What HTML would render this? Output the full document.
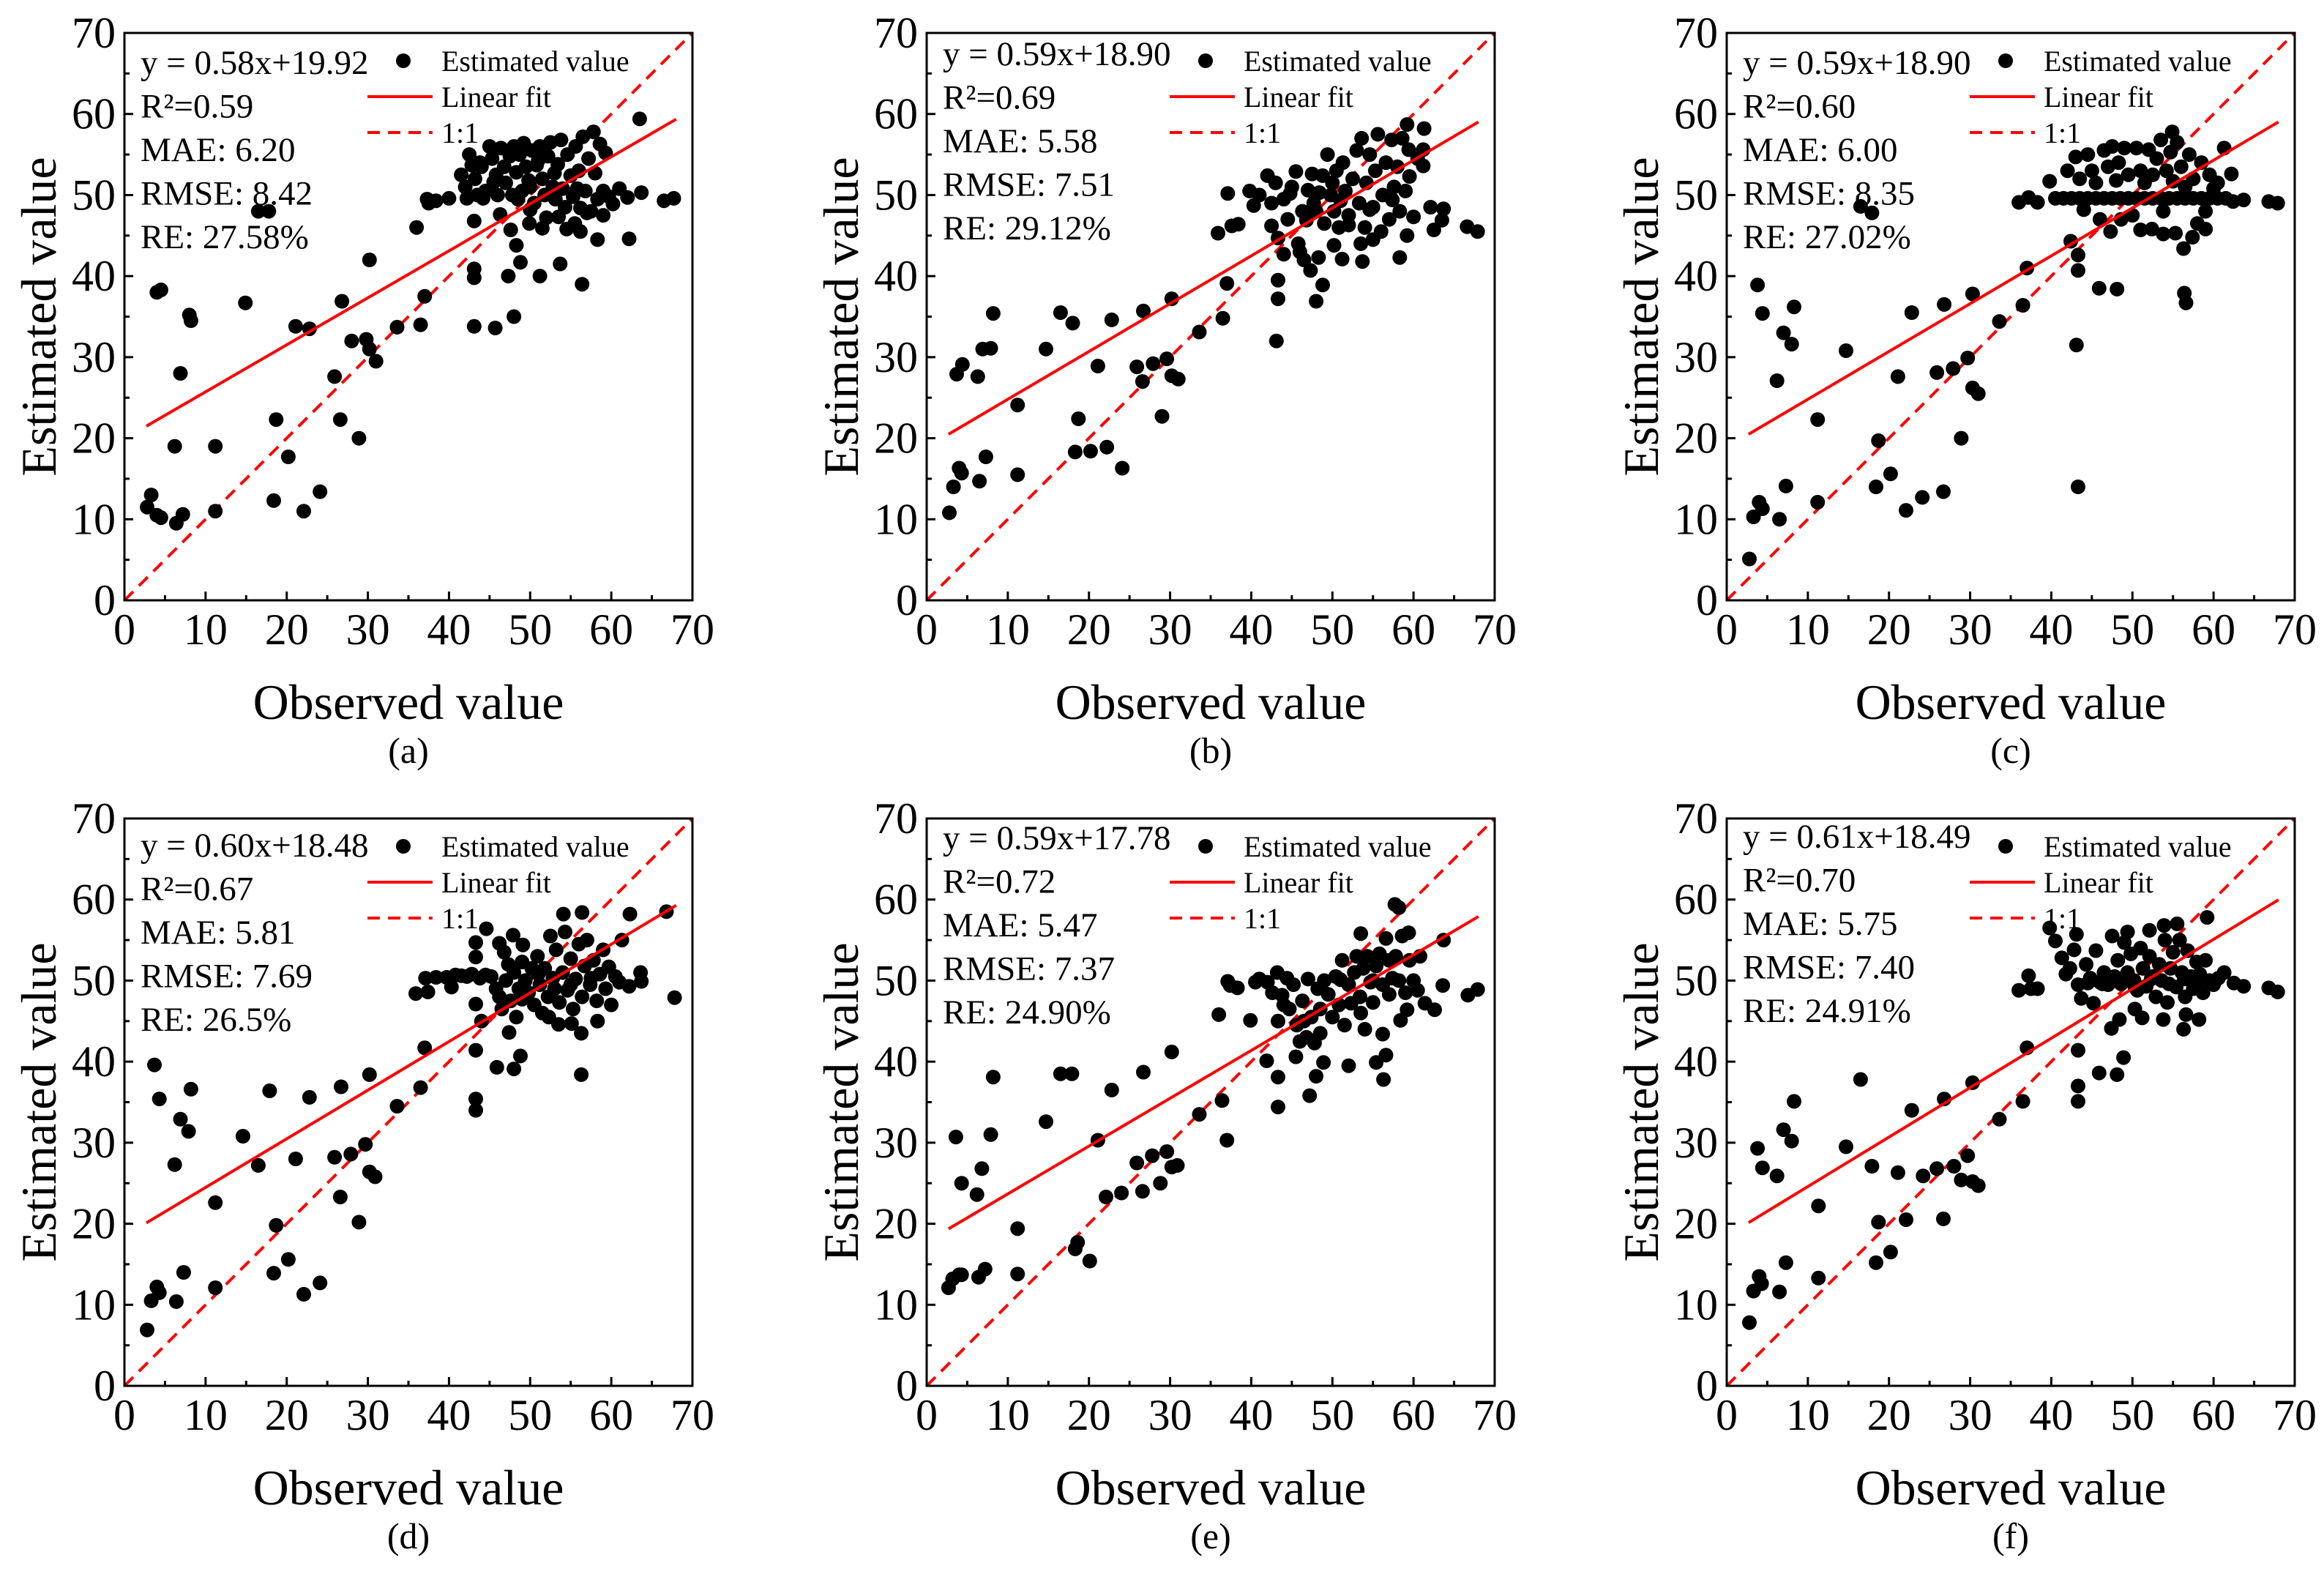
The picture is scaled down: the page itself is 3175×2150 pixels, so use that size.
<!DOCTYPE html>
<html><head><meta charset="utf-8"><title>Observed vs estimated scatter plots</title>
<style>
html,body{margin:0;padding:0;background:#fff;}
svg{display:block;font-family:"Liberation Serif","Times New Roman",serif;}
</style></head>
<body>
<svg id="fig" width="3175" height="2150" viewBox="0 0 3175 2150" xmlns="http://www.w3.org/2000/svg"></svg>
<script>
// ---- data ----
const tickValues = [0,10,20,30,40,50,60,70];
const panelLabels = ["(a)","(b)","(c)","(d)","(e)","(f)"];
const fitSlopes = [0.58,0.59,0.59,0.60,0.59,0.61];
const fitIntercepts = [19.92,18.90,18.90,18.48,17.78,18.49];
const statEq = ["y = 0.58x+19.92","y = 0.59x+18.90","y = 0.59x+18.90","y = 0.60x+18.48","y = 0.59x+17.78","y = 0.61x+18.49"];
const statR2 = ["R²=0.59","R²=0.69","R²=0.60","R²=0.67","R²=0.72","R²=0.70"];
const statMAE = ["MAE: 6.20","MAE: 5.58","MAE: 6.00","MAE: 5.81","MAE: 5.47","MAE: 5.75"];
const statRMSE = ["RMSE: 8.42","RMSE: 7.51","RMSE: 8.35","RMSE: 7.69","RMSE: 7.37","RMSE: 7.40"];
const statRE = ["RE: 27.58%","RE: 29.12%","RE: 27.02%","RE: 26.5%","RE: 24.90%","RE: 24.91%"];

const pointsA = [[2.8,11.5],[3.3,13],[4,38],[4.5,38.3],[4,10.5],[4.5,10.2],[6.2,19],[6.4,9.5],[6.9,28],[7.2,10.6],[8,35.2],[8.2,34.5],[11.2,19],[11.2,11],[14.9,36.7],[16.5,48],[17.8,48],[18.4,12.3],[18.7,22.3],[20.2,17.7],[21.1,33.8],[22.1,11],[22.8,33.5],[24.1,13.4],[25.9,27.6],[26.6,22.3],[26.8,36.9],[28,32],[28.9,20],[29.8,32.2],[30.2,31],[30.2,42],[31,29.5],[33.6,33.7],[36,46],[36.5,34],[37,37.5],[37.3,49.5],[37.5,49],[38.4,49.3],[40,49.6],[43.1,39.8],[43.1,40.9],[43.1,33.8],[43.1,46.8],[45.7,33.6],[48,35],[47.3,40],[48.3,43.8],[48.8,41.7],[49.9,46.5],[51.2,40],[51.5,45.9],[53.7,41.5],[56.4,39],[56.2,45.5],[58.3,44.5],[59,47.5],[62.2,44.6],[63.5,59.4],[63.7,50.3],[66.5,49.3],[67.7,49.6],[61,50.8],[62,49.7],[60.2,48.9],
[41.5,52.5],[42,51],[42.5,55],[42.8,53.7],[43.2,52],[43.5,50],[44,53.5],[44.5,50.5],[45,56],[45.3,54.5],[45.8,52.5],[46,50],[46.4,55.8],[46.8,53.5],[47,51.5],[47.5,54.8],[47.8,50],[48,56],[48.3,52.8],[48.7,55],[49,50.5],[49.2,56.4],[49.5,53.5],[50,51],[50.2,55.5],[50.5,49],[50.8,53.7],[51.2,56],[51.5,52],[51.8,50],[52.2,54.8],[52.5,56.5],[52.8,51],[53.1,49.5],[53.4,53.8],[53.8,56.8],[54,50.8],[54.3,48.5],[54.6,55],[55,52.4],[55.3,49.8],[55.6,56],[56,53],[56.2,48.4],[56.5,57.2],[56.8,50.5],[57.2,54.5],[57.5,48],[57.8,57.8],[58,52.7],[58.3,49.5],[58.6,56.3],[59,50.5],[59.3,55.2],[59.7,49.8],[44.2,49.6],[42.2,49.6],[46.3,47.6],[47.6,45.7],[52,47.2],[53.5,47.3],[54.5,45.8],[55.5,46.5],[57,47.8],[50,48.2],[48.5,49.5],[45.5,51.6],[43.8,54],[51,54.3],[53,52.7],[55.8,50.8],[49.8,51.8]];

const pointsB = [[2.8,10.8],[3.3,14],[4,16.3],[4.3,15.7],[3.7,27.9],[4.4,29.1],[6.3,27.6],[6.5,14.7],[6.9,31],[7.9,31.1],[7.3,17.7],[8.2,35.4],[11.2,24.1],[11.2,15.5],[14.7,31],[16.5,35.5],[18,34.2],[18.7,22.4],[18.3,18.3],[20.2,18.4],[21.1,28.9],[22.2,18.9],[22.8,34.6],[24.1,16.3],[25.9,28.8],[26.6,27],[26.7,35.7],[27.9,29.2],[29,22.7],[29.6,29.8],[30.2,37.2],[30.2,27.7],[31,27.3],[33.6,33.1],[36.5,34.8],[35.9,45.3],[37,39.1],[37.1,50.2],[37.6,46.2],[38.4,46.4],[39.8,50.5],[40.3,48.7],[42.5,46.2],[43.1,32],[43.3,37.2],[43.3,39.5],[43.3,44.7],[44,42.7],[47.3,40.7],[48,36.9],[48.8,38.9],[48.3,42.3],[50.2,43.8],[51.2,42.1],[53.7,41.8],[58.3,42.3],[62.1,48.5],[62.5,45.7],[63.5,46.9],[63.7,48.3],[66.6,46.1],[67.9,45.5],[61.3,58.2],[61.2,55.6],[61.2,53.6],[59.2,58.7],[59.4,55.6],
[41,50],[42,52.4],[42.5,49],[43,51.5],[44,49.5],[44.5,47],[45,51],[45.5,52.9],[45.8,44],[46.3,48],[46,43],[46.5,42],[47,50.6],[47.5,52.6],[48,48],[48.4,50.3],[48.8,52.4],[49,46.5],[49.4,55],[49.8,50],[50.2,48],[50.5,53],[50.8,46],[51.3,54],[51.6,50.5],[52,47.5],[52.5,52],[53,55.5],[53.3,49],[53.6,57],[54,46],[54.2,51.5],[54.6,55],[55,48.5],[55.3,53],[55.6,57.5],[56,45.5],[56.2,50],[56.6,54],[57,47],[57.3,56.8],[57.6,51],[58,53.5],[58.3,48],[58.6,57],[59,50.5],[59.2,45],[59.5,52.3],[60,47.3],[60.5,54.5],[55,44.5],[53.5,44],[52,46.3],[50,51.5],[47.7,49],[44.8,50.2],[46.8,46.9],[51,49.3],[54.6,48.2],[57.4,49.4]];

const pointsC = [[2.8,5.1],[3.3,10.3],[4,12.1],[4.4,11.3],[3.8,38.9],[4.4,35.4],[6.2,27.1],[6.5,10],[7,33],[7.3,14.1],[8,31.6],[8.3,36.2],[11.2,22.3],[11.2,12.1],[14.7,30.8],[16.5,48.6],[17.9,47.8],[18.4,14],[18.7,19.7],[20.2,15.6],[21.1,27.6],[22.1,11.1],[22.8,35.5],[24.1,12.7],[25.9,28.1],[26.7,13.4],[26.8,36.5],[27.9,28.6],[28.9,20],[29.7,29.9],[30.3,37.8],[30.3,26.2],[31,25.5],[33.6,34.4],[36.5,36.4],[36,49.1],[37,41],[37.2,49.7],[38.3,49.1],[39.8,51.7],[42.4,44.3],[43.3,14],[43.1,31.5],[43.3,40.7],[43.3,42.6],[45.9,38.5],[48.1,38.4],[56.4,37.9],[56.6,36.7],[56.3,43.4],[57.4,44.8],[53.8,45.2],[55.3,45.3],[51,45.7],[52.4,45.8],[59,45.8],[66.8,49.2],[67.9,49],[63.7,49.4],[62.4,49.2],[61.3,55.8],[62.2,52.6],[54.9,57.8],
[40.5,49.6],[41.5,49.6],[42.5,49.6],[43.5,49.6],[44.5,49.6],[45.5,49.6],[46.5,49.6],[47.5,49.6],[48.5,49.6],[49.5,49.6],[50.5,49.6],[51.5,49.6],[52.5,49.6],[53.5,49.6],[54.5,49.6],[55.5,49.6],[56.5,49.6],[57.5,49.6],[58.5,49.6],[59.5,49.6],[60.5,49.6],[61.5,49.6],
[42,53],[43,54.7],[43.5,52],[44,48.2],[44.5,55],[45,53],[45.5,51.5],[46,47],[46.5,55.5],[47,53.5],[47.3,45.5],[47.5,56],[48,51.8],[48.3,54],[48.6,47],[49,55.8],[49.5,52.5],[50,47.5],[50.5,55.8],[51,53],[51.5,51.5],[52,55.6],[52.5,52.5],[53,54.5],[53.5,56.8],[53.8,48],[54.2,53],[54.7,55.3],[55,51.7],[55.5,56.5],[56,53.5],[56.5,51],[57,55],[57.5,52],[58,46.5],[58.5,54],[59,48],[59.5,52.5],[60,50.8],[60.5,51.5]];

const pointsD = [[2.8,6.9],[3.3,10.5],[4,12.2],[4.3,11.5],[3.7,39.6],[4.3,35.4],[6.2,27.3],[6.4,10.4],[6.9,32.9],[7.3,14],[7.9,31.4],[8.2,36.6],[11.2,22.6],[11.2,12.1],[14.6,30.8],[16.5,27.2],[17.9,36.4],[18.4,13.9],[18.7,19.8],[20.2,15.6],[21.1,28],[22.1,11.3],[22.8,35.6],[24.1,12.7],[25.9,28.2],[26.6,23.3],[26.7,36.9],[27.9,28.6],[28.9,20.2],[29.7,29.8],[30.2,38.4],[30.2,26.4],[30.9,25.8],[33.6,34.5],[36.5,36.8],[35.9,48.4],[37,41.7],[37.1,50.3],[37.4,48.6],[38.4,50.4],[39.7,50.4],[40.3,49.2],[43.3,35.4],[43.3,34],[43.3,41.4],[43.3,47.1],[44,45],[43.3,54.7],[43.3,52.9],[44.6,56.4],[45.9,39.3],[48,39.1],[48.8,40.7],[47.4,43.6],[56.3,38.4],[56.3,43.5],[58.3,45],[53.5,44.6],[55.1,44.7],[66.8,58.5],[67.8,47.9],[62.3,58.2],[61.3,55],[63.6,51],[63.7,49.9],[62.2,49.3],[54.1,58.2],[56.4,58.4],[46.2,54.6],[47.9,55.6],[49.1,54.4],
[40.8,50.7],[41.5,50.6],[42.2,50.5],[42.8,50.8],[43.8,50.3],[44.5,50.7],[45.2,50.5],[45.8,49],[46.2,48],[46.5,46.5],[47,50],[47.3,52],[47.6,47.5],[48,51],[48.3,45.5],[48.6,49],[49,52.3],[49.4,50],[49.8,48.5],[50.2,51.5],[50.5,47],[50.9,53],[51.2,49.5],[51.5,46],[51.8,51.5],[52.2,48],[52.5,55.5],[52.8,50.3],[53.2,53.8],[53.6,47.3],[54,51],[54.3,56],[54.6,48.8],[55,52.7],[55.3,46.5],[55.6,50.2],[56,54.5],[56.4,48],[56.7,51.8],[57,55],[57.4,49.5],[57.8,52.5],[58.2,47.5],[58.6,50.8],[59,53.8],[59.3,49],[59.7,51.7],[60,47],[60.5,50.5],[61,49.8],[53,49],[51,50.8],[55,49.5],[57.5,50.3],[49,47.7],[52.3,45.5],[46.8,53.5]];

const pointsE = [[2.7,12.1],[3.2,13.2],[4,13.7],[4.3,13.7],[3.6,30.7],[4.3,25],[6.2,23.6],[6.4,13.4],[6.8,26.8],[7.2,14.4],[7.9,31],[8.2,38.1],[11.2,19.4],[11.2,13.8],[14.7,32.6],[16.5,38.5],[17.9,38.5],[18.3,16.9],[18.6,17.7],[20.1,15.4],[21.1,30.3],[22.1,23.3],[22.8,36.5],[24,23.8],[25.9,27.5],[26.6,24],[26.7,38.7],[27.8,28.4],[28.8,25],[29.6,28.9],[30.2,41.2],[30.2,27],[30.9,27.2],[33.6,33.5],[36.4,35.2],[36,45.8],[37,30.3],[37.1,49.9],[37.4,49.4],[38.3,49.1],[39.9,45.1],[40.5,49.8],[41.9,40.1],[43.3,34.4],[43.3,38.1],[43.3,45],[45.5,40.6],[47.2,35.8],[48,38.2],[48.9,39.9],[52,39.5],[55.4,39.9],[56.3,37.8],[56.6,40.8],[56.2,43.4],[58.4,45.1],[59.2,46.4],[61.4,47.2],[62.6,46.4],[63.7,55],[63.6,49.4],[66.7,48.2],[67.9,48.9],[57.7,59.4],[58.2,59],[53.5,55.8],[59.4,55.9],[60.8,53],
[41,50.2],[42,49.8],[42.6,48.5],[43.2,51],[43.8,48.2],[44.4,50.3],[44.7,46.5],[45.2,49.5],[45.6,44.5],[46,42.5],[46.3,47.5],[46.8,43],[47,50.2],[47.4,45.5],[47.8,42.3],[48.2,49],[48.5,46.5],[49,50],[49.5,48.3],[50,45.5],[50.4,50.5],[50.8,47],[51.2,52.5],[51.5,44.5],[52,49.5],[52.3,47.2],[52.7,51],[53,53],[53.4,48],[53.8,51.5],[54,44],[54.3,53],[54.7,49.8],[55,47.3],[55.4,51.8],[55.8,53.3],[56.2,49.5],[56.6,55.2],[57,48.3],[57.4,50.3],[57.8,53],[58.2,50],[58.6,55.5],[59,48.5],[59.5,52.5],[60,50],[60.5,48.8],[48.5,43.5],[44,47],[46.5,45],[51,50.1],[53.5,46],[55,50],[57,52.5]];

const pointsF = [[2.8,7.8],[3.3,11.7],[4,13.5],[4.3,12.6],[3.8,29.3],[4.4,26.9],[6.2,25.9],[6.5,11.6],[7,31.6],[7.3,15.2],[8,30.2],[8.3,35.1],[11.3,22.2],[11.3,13.3],[14.7,29.5],[16.5,37.8],[17.9,27.1],[18.4,15.2],[18.7,20.2],[20.2,16.5],[21.1,26.3],[22.1,20.5],[22.8,34],[24.2,25.9],[25.9,26.8],[26.7,20.6],[26.8,35.4],[28,27.1],[28.9,25.4],[29.7,28.4],[30.3,37.4],[30.3,25.2],[31,24.7],[33.6,32.9],[36.5,35.1],[36,48.8],[37,41.7],[37.2,50.6],[37.5,49],[38.3,49],[39.8,56.5],[40.5,54.9],[43.3,37],[43.3,35.1],[43.3,41.4],[45.9,38.6],[48.1,38.4],[48.9,40.5],[47.4,44.1],[48.4,45.2],[50.3,46.5],[51.2,45.4],[53.8,45.2],[56.3,44],[56.6,45.8],[58.2,45.2],[66.8,49.1],[67.9,48.6],[63.7,49.3],[62.5,49.7],[61.3,51],[59.2,57.8],[55.5,57],[53.9,56.8],[52.1,56.2],[43.1,55.7],[49.4,56],
[41.3,52.8],[41.8,50.8],[42.3,51.5],[42.8,53.8],[43.3,49.5],[43.7,47.8],[44.3,52],[44.8,50.3],[45.2,47.2],[45.5,53.7],[46,49.8],[46.5,51],[47,49.5],[47.5,55.5],[47.8,50.5],[48.2,52.5],[48.6,49.6],[49,54.7],[49.4,51],[49.8,53.3],[50.2,50],[50.6,48.8],[51,54],[51.3,51.5],[51.7,49.3],[52.1,53],[52.5,50.5],[52.9,48],[53.3,52],[53.6,50],[54,55],[54.3,47.3],[54.7,51.5],[55,53.5],[55.4,49.2],[55.8,55],[56.1,51],[56.5,48],[56.8,53.7],[57.2,50.5],[57.5,49],[57.9,52.3],[58.3,50.8],[58.7,48.5],[59,52.5],[59.5,50],[60,49.5],[60.6,50.3],[44.5,49.7],[46.3,49.6],[48.3,50.2],[50.3,49.2],[52.3,50.2],[54.5,49.6],[56.4,50.2],[58,49.8]];

const allPoints = [pointsA,pointsB,pointsC,pointsD,pointsE,pointsF];
const statOffsets = [40,28,40,36,26,24];

// ---- drawing ----
const NS = "http://www.w3.org/2000/svg";
const svg = document.getElementById("fig");
const colLeft = [170,1266,2359];
const rowTop = [45,1118];
const PW = 776, PH = 775, XMAX = 70, YMAX = 70;
function mk(tag, attrs, parent){
  const e = document.createElementNS(NS, tag);
  for (const k in attrs) e.setAttribute(k, attrs[k]);
  (parent||svg).appendChild(e);
  return e;
}
for (let p = 0; p < 6; p++) {
  const L = colLeft[p % 3], T = rowTop[Math.floor(p / 3)];
  const sx = v => L + v / XMAX * PW;
  const sy = v => T + PH - v / YMAX * PH;
  const g = mk("g", {});
  
  

  const ref = mk("line", {x1:sx(0),y1:sy(0),x2:sx(70),y2:sy(70),stroke:"#ff0000","stroke-width":4,"stroke-dasharray":"17 11"}, g);
  
  

  const pg = mk("g", {fill:"#000"}, g);
  
  
  allPoints[p].forEach(pt => {
    const c = mk("circle", {cx:sx(pt[0]).toFixed(1), cy:sy(pt[1]).toFixed(1), r:10}, pg);
    
    
  });

  const x1 = 2.7, x2 = 68;
  const fit = mk("line", {x1:sx(x1),y1:sy(fitSlopes[p]*x1+fitIntercepts[p]),x2:sx(x2),y2:sy(fitSlopes[p]*x2+fitIntercepts[p]),stroke:"#ff0000","stroke-width":4}, g);
  
  

  const fr = mk("rect", {x:L,y:T,width:PW,height:PH,fill:"none",stroke:"#000","stroke-width":3}, g);
  
  

  for (let v = 0; v <= 70; v += 5) {
    const major = v % 10 === 0;
    const len = major ? 12 : 7;
    mk("line", {x1:sx(v),y1:T+PH,x2:sx(v),y2:T+PH-len,stroke:"#000","stroke-width":3}, g);
    mk("line", {x1:L,y1:sy(v),x2:L+len,y2:sy(v),stroke:"#000","stroke-width":3}, g);
  }
  tickValues.forEach(v => {
    const tx = mk("text", {x:sx(v), y:T+PH+60, "font-size":60, "text-anchor":"middle"}, g);
    tx.textContent = v;
    
    
    const ty = mk("text", {x:L-12, y:sy(v)+20, "font-size":60, "text-anchor":"end"}, g);
    ty.textContent = v;
    
    
  });

  const xt = mk("text", {x:L+PW/2, y:T+PH+162, "font-size":68, "text-anchor":"middle"}, g);
  xt.textContent = "Observed value";
  
  
  const ycx = L - 94, ycy = T + PH/2;
  const yt = mk("text", {x:ycx, y:ycy, "font-size":68, "text-anchor":"middle", transform:`rotate(-90 ${ycx} ${ycy})`}, g);
  yt.textContent = "Estimated value";
  
  
  const pl = mk("text", {x:L+PW/2, y:T+PH+222, "font-size":50, "text-anchor":"middle"}, g);
  pl.textContent = panelLabels[p];
  
  

  const stats = [statEq[p], statR2[p], statMAE[p], statRMSE[p], statRE[p]];
  stats.forEach((s, i) => {
    const st = mk("text", {x:L+22, y:T+statOffsets[p]+16+i*59.5, "font-size":47}, g);
    st.textContent = s;
    
    
  });

  const lg = mk("g", {}, g);
  
  
  const ly = [T+38, T+87, T+136];
  mk("circle", {cx:L+381, cy:ly[0], r:10, fill:"#000"}, lg);
  mk("line", {x1:L+332, y1:ly[1], x2:L+421, y2:ly[1], stroke:"#ff0000","stroke-width":4}, lg);
  mk("line", {x1:L+332, y1:ly[2], x2:L+421, y2:ly[2], stroke:"#ff0000","stroke-width":4,"stroke-dasharray":"17 11"}, lg);
  ["Estimated value","Linear fit","1:1"].forEach((s,i) => {
    const t = mk("text", {x:L+433, y:ly[i]+14, "font-size":40}, lg);
    t.textContent = s;
    
    
  });
}
</script>
</body></html>
